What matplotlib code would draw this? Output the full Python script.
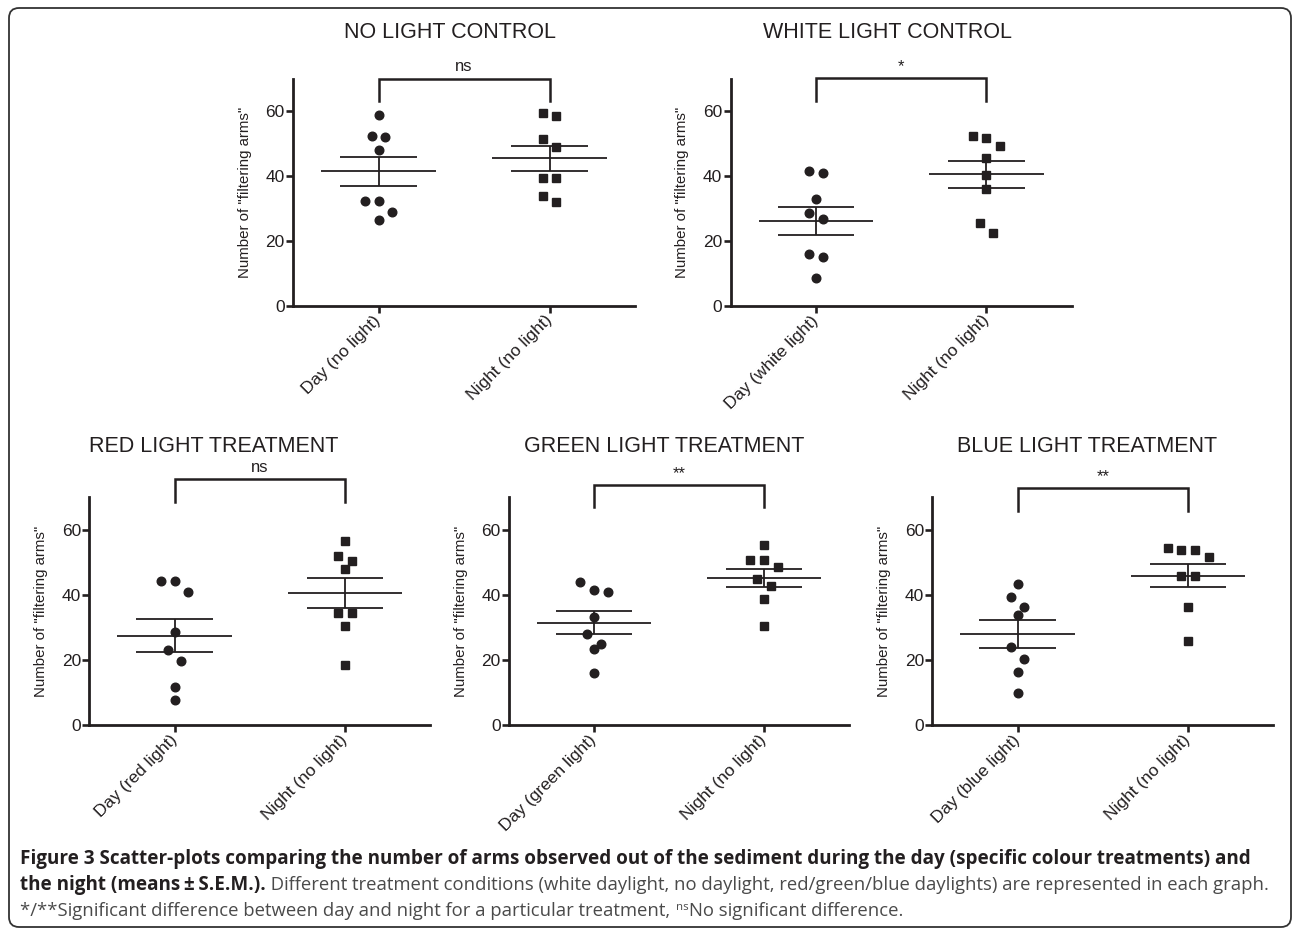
import numpy as np
import matplotlib
matplotlib.use("Agg")
import matplotlib.pyplot as plt
from matplotlib.patches import FancyBboxPatch
from matplotlib.transforms import IdentityTransform

# ---------------- data ----------------
titles = ["NO LIGHT CONTROL", "WHITE LIGHT CONTROL", "RED LIGHT TREATMENT",
          "GREEN LIGHT TREATMENT", "BLUE LIGHT TREATMENT"]
day_labels = ["Day (no light)", "Day (white light)", "Day (red light)",
              "Day (green light)", "Day (blue light)"]
night_label = "Night (no light)"
significance = ["ns", "*", "ns", "**", "**"]
y_label = 'Number of "filtering arms"'
y_ticks = [0, 20, 40, 60]

day_no_light = [58.9, 52.4, 52.0, 47.9, 32.4, 32.4, 29.0, 26.4]
night_ctrl_dark = [59.4, 58.5, 51.4, 48.9, 39.5, 39.5, 33.9, 32.0]
day_white = [41.4, 40.9, 33.0, 28.5, 26.8, 15.8, 15.0, 8.4]
night_ctrl_white = [52.4, 51.8, 49.2, 45.6, 40.4, 36.1, 25.5, 22.5]
day_red = [44.1, 44.1, 40.8, 28.4, 23.0, 19.5, 11.6, 7.6]
night_red = [56.4, 51.9, 50.3, 47.9, 34.4, 34.4, 30.4, 18.4]
day_green = [44.0, 41.4, 40.9, 33.3, 27.8, 24.8, 23.3, 15.9]
night_green = [55.3, 50.6, 50.6, 48.6, 44.7, 42.7, 38.8, 30.4]
day_blue = [43.2, 39.3, 36.2, 33.8, 23.8, 20.4, 16.4, 9.9]
night_blue = [54.3, 53.7, 53.7, 51.6, 45.6, 45.6, 36.2, 25.8]

day_sets = [day_no_light, day_white, day_red, day_green, day_blue]
night_sets = [night_ctrl_dark, night_ctrl_white, night_red, night_green, night_blue]

caption_bold_1 = ("Figure 3 Scatter-plots comparing the number of arms observed out of the "
                  "sediment during the day (specific colour treatments) and")
caption_bold_2 = "the night (means\u2009\u00b1\u2009S.E.M.)."
caption_reg_2 = (" Different treatment conditions (white daylight, no daylight, "
                 "red/green/blue daylights) are represented in each graph.")
caption_reg_3a = "*/**Significant difference between day and night for a particular treatment, "
caption_sup_3 = "ns"
caption_reg_3b = "No significant difference."

# ---------------- layout / style ----------------
W, H = 1292, 932
INK = "#231f20"
plt.rcParams['font.family'] = ['Liberation Sans', 'DejaVu Sans']

fig = plt.figure(figsize=(W / 100, H / 100), dpi=100)


def rect(l, t, w, h):
    return [l / W, 1 - (t + h) / H, w / W, h / H]


panel_px = [(293, 78.6, 342, 227), (730.7, 78.6, 341, 227),
            (89.3, 497, 341, 228), (509, 497, 340, 228), (932.3, 497, 341, 228)]
bracket_y = [(63, 70), (63, 70.1), (68.4, 75.5), (66.8, 73.7), (65.7, 72.7)]
title_pos = [(450, 32), (887, 32), (214, 447), (664, 447), (1087, 447)]
YMAX = 70


def swarm_offsets(values, px_per_unit, thresh_px=12.0, step=0.08):
    v = np.asarray(values, dtype=float)
    order = np.argsort(-v, kind="stable")
    groups, cur = [], [order[0]]
    for i in order[1:]:
        if (v[cur[0]] - v[i]) * px_per_unit < thresh_px:
            cur.append(i)
        else:
            groups.append(cur)
            cur = [i]
    groups.append(cur)
    off = np.zeros(len(v))
    for g in groups:
        n = len(g)
        for k, i in enumerate(g):
            off[i] = (k - (n - 1) / 2) * step
    return off


for p in range(5):
    l, t, w, h = panel_px[p]
    ax = fig.add_axes(rect(l, t, w, h))
    ax.set_xlim(-0.5, 1.5)
    ax.set_ylim(0, YMAX)
    ppu = h / YMAX
    for j, (vals, mk, ms) in enumerate([(day_sets[p], 'o', 6.2), (night_sets[p], 's', 6.3)]):
        vals = np.asarray(vals, dtype=float)
        off = swarm_offsets(vals, ppu)
        ax.plot(j + off, vals, ls='none', marker=mk, ms=ms, color=INK, mec=INK, zorder=3)
        m = vals.mean()
        sem = vals.std(ddof=1) / np.sqrt(len(vals))
        ax.hlines(m, j - 0.335, j + 0.335, color=INK, lw=1.3, zorder=4)
        ax.hlines([m - sem, m + sem], j - 0.225, j + 0.225, color=INK, lw=1.3, zorder=4)
        ax.vlines(j, m - sem, m + sem, color=INK, lw=1.3, zorder=4)

    lo, hi = bracket_y[p]
    ax.plot([0, 0, 1, 1], [lo, hi, hi, lo], color=INK, lw=1.8, clip_on=False,
            solid_joinstyle='miter', zorder=5)
    ax.annotate(significance[p], xy=(0.5, hi), xytext=(0, 3), textcoords='offset points',
                ha='center', va='bottom', fontsize=12, color=INK, annotation_clip=False)

    for s in ['top', 'right']:
        ax.spines[s].set_visible(False)
    for s in ['left', 'bottom']:
        ax.spines[s].set_linewidth(2.0)
        ax.spines[s].set_color(INK)
    ax.set_yticks(y_ticks)
    ax.set_xticks([0, 1])
    ax.set_xticklabels([day_labels[p], night_label], rotation=45, ha='right', va='center',
                       rotation_mode='anchor', fontsize=12.5, color=INK)
    ax.tick_params(axis='both', width=1.9, length=5, color=INK, labelcolor=INK)
    ax.tick_params(axis='y', labelsize=12.5, pad=1)
    ax.tick_params(axis='x', pad=4)
    ax.set_ylabel(y_label, fontsize=10.8, color=INK, labelpad=10)

    tx, ty = title_pos[p]
    fig.text(tx / W, 1 - ty / H, titles[p], ha='center', va='center', fontsize=15.5, color=INK)

# ---------------- border ----------------
border = FancyBboxPatch((9, H - 927), 1291 - 9, 927 - 8,
                        boxstyle='round,pad=0,rounding_size=10',
                        transform=IdentityTransform(), fill=False, lw=1.3, ec='#333333')
fig.add_artist(border)

# ---------------- caption ----------------
renderer = fig.canvas.get_renderer()
CAP_FONT = ['Open Sans', 'DejaVu Sans']
BOLD_C = '#231f20'
REG_C = '#4a4a4a'
x_start, target_right = 20, 1252

probe = fig.text(0, 0, caption_bold_1, fontsize=12, family=CAP_FONT, weight='bold')
pw = probe.get_window_extent(renderer).width
probe.remove()
cap_size = 12 * (target_right - x_start) / pw
reg_size = cap_size * 0.975


def put(x_px, base_px, text, **kw):
    tt = fig.text(x_px / W, 1 - base_px / H, text, ha='left', va='baseline',
                  family=CAP_FONT, **kw)
    bb = tt.get_window_extent(renderer)
    return bb.x1


put(x_start, 864, caption_bold_1, fontsize=cap_size, weight='bold', color=BOLD_C)
xe = put(x_start, 890, caption_bold_2, fontsize=cap_size, weight='bold', color=BOLD_C)
put(xe, 890, caption_reg_2, fontsize=reg_size, color=REG_C)
xe = put(x_start, 916, caption_reg_3a, fontsize=reg_size, color=REG_C)
xe = put(xe + 1, 910, caption_sup_3, fontsize=reg_size * 0.62, color=REG_C)
put(xe + 1, 916, caption_reg_3b, fontsize=reg_size, color=REG_C)

fig.savefig("out.png", dpi=100)
